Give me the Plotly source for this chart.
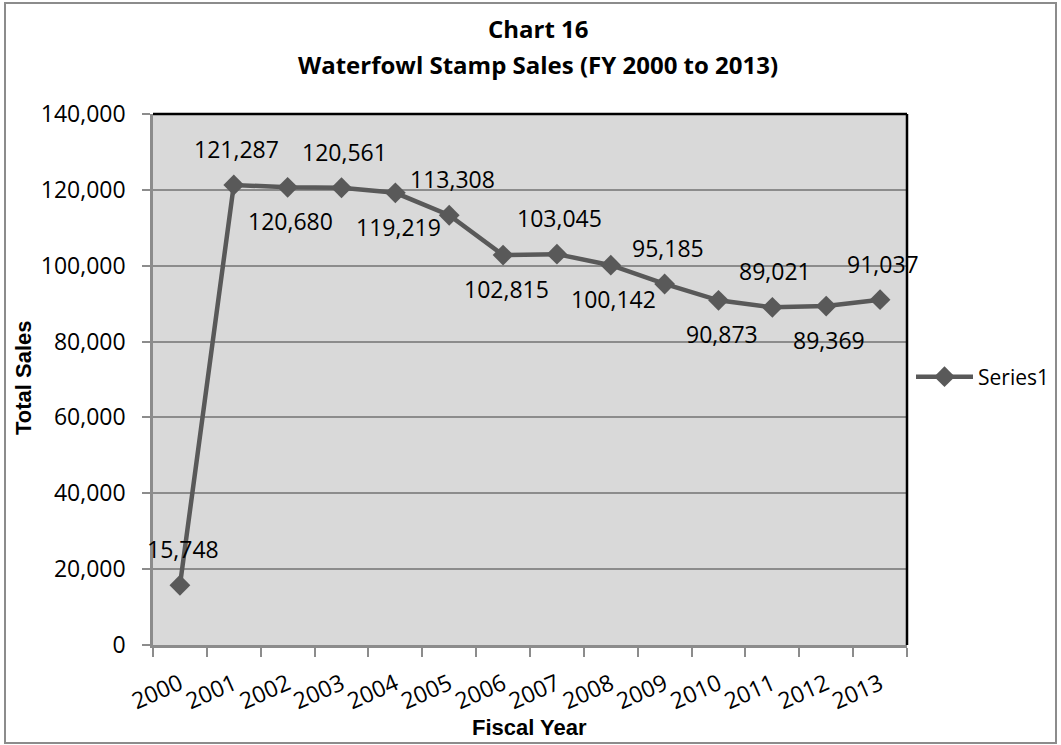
import plotly.graph_objects as go

years = ["2000", "2001", "2002", "2003", "2004", "2005", "2006",
         "2007", "2008", "2009", "2010", "2011", "2012", "2013"]
sales = [15748, 121287, 120680, 120561, 119219, 113308, 102815,
         103045, 100142, 95185, 90873, 89021, 89369, 91037]
label_side = ["above", "above", "below", "above", "below", "above", "below",
              "above", "below", "above", "below", "above", "below", "above"]

W, H = 1061, 745
L, R, T, B = 153, 907, 114, 645

LINE = "#595959"
LABEL_FONT = "Open Sans, Lato, sans-serif"

fig = go.Figure()
fig.add_trace(go.Scatter(
    x=years, y=sales, mode="lines+markers", name="Series1",
    line=dict(color=LINE, width=4.5),
    marker=dict(symbol="diamond", size=16, color=LINE),
))

annotations = []
for i, (v, side) in enumerate(zip(sales, label_side)):
    annotations.append(dict(
        x=i, y=v, xref="x", yref="y", text=f"{v:,}", showarrow=False,
        yshift=36 if side == "above" else -34,
        xshift=3,
        font=dict(family=LABEL_FONT, size=23, color="#000000"),
        xanchor="center", yanchor="middle",
    ))

def px_x(p):
    return (p - L) / (R - L)

def px_y(p):
    return (B - p) / (B - T)

annotations.append(dict(
    x=px_x(538), y=px_y(28), xref="paper", yref="paper", text="<b>Chart 16</b>",
    showarrow=False, xanchor="center", yanchor="middle",
    font=dict(family=LABEL_FONT, size=24, color="#000000")))
annotations.append(dict(
    x=px_x(538), y=px_y(65), xref="paper", yref="paper",
    text="<b>Waterfowl Stamp Sales (FY 2000 to 2013)</b>",
    showarrow=False, xanchor="center", yanchor="middle",
    font=dict(family=LABEL_FONT, size=24, color="#000000")))
annotations.append(dict(
    x=px_x(529), y=px_y(727), xref="paper", yref="paper", text="<b>Fiscal Year</b>",
    showarrow=False, xanchor="center", yanchor="middle",
    font=dict(family="Liberation Sans, Arial, sans-serif", size=22, color="#000000")))
annotations.append(dict(
    x=px_x(23), y=px_y(378), xref="paper", yref="paper", text="<b>Total Sales</b>",
    showarrow=False, xanchor="center", yanchor="middle", textangle=-90,
    font=dict(family="Liberation Sans, Arial, sans-serif", size=22, color="#000000")))

shapes = [
    dict(type="rect", xref="paper", yref="paper",
         x0=px_x(5), x1=px_x(1056), y0=px_y(743), y1=px_y(3),
         line=dict(color="#8C8C8C", width=2), fillcolor="rgba(0,0,0,0)", layer="below"),
    dict(type="line", xref="paper", yref="paper", x0=0, x1=1, y0=1, y1=1,
         line=dict(color="#000000", width=2.5)),
    dict(type="line", xref="paper", yref="paper", x0=1, x1=1, y0=0, y1=1,
         line=dict(color="#000000", width=2.5)),
]

fig.update_layout(
    width=W, height=H,
    margin=dict(l=L, r=W - R, t=T, b=H - B, autoexpand=False),
    paper_bgcolor="#FFFFFF",
    plot_bgcolor="#D9D9D9",
    showlegend=True,
    legend=dict(x=px_x(911), y=px_y(377), xanchor="left", yanchor="middle",
                bgcolor="rgba(0,0,0,0)", itemwidth=57,
                font=dict(family=LABEL_FONT, size=21, color="#000000")),
    annotations=annotations,
    shapes=shapes,
    xaxis=dict(
        type="category", tickangle=-24, tickson="boundaries",
        ticks="outside", ticklen=9, tickwidth=2, tickcolor="#8C8C8C",
        ticklabelstandoff=14,
        showline=True, linecolor="#8C8C8C", linewidth=2.5,
        showgrid=False, zeroline=False,
        tickfont=dict(family=LABEL_FONT, size=23, color="#000000"),
        range=[-0.5, 13.5],
    ),
    yaxis=dict(
        range=[0, 140000], dtick=20000, tickformat=",d",
        ticks="outside", ticklen=8, tickwidth=2, tickcolor="#8C8C8C",
        ticklabelstandoff=12,
        showline=True, linecolor="#8C8C8C", linewidth=2.5,
        showgrid=True, gridcolor="#8C8C8C", gridwidth=2,
        zeroline=False,
        tickfont=dict(family=LABEL_FONT, size=23, color="#000000"),
    ),
)

fig.write_html("out.html", config={"displayModeBar": False},
               post_script="document.body.style.margin='0';document.body.style.overflow='hidden';")
